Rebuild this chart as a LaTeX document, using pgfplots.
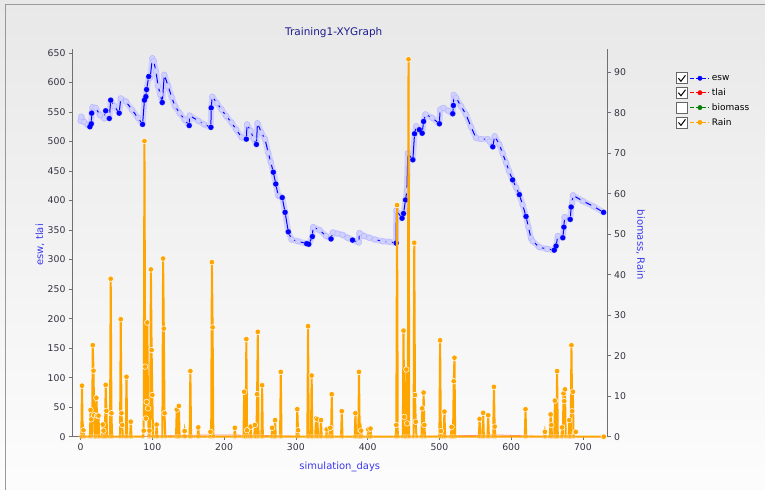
\documentclass[border=0pt]{standalone}
\usepackage{pgfplots}
\pgfplotsset{compat=1.18}
\usepackage{fontspec}
\setmainfont{DejaVu Sans}
\definecolor{rainc}{HTML}{FFA500}
\definecolor{eswc}{HTML}{0000FF}
\definecolor{titlec}{HTML}{1C1C8C}
\definecolor{labc}{HTML}{3A3AF0}
\definecolor{axc}{HTML}{707070}
\definecolor{tickc}{HTML}{333340}
\pgfplotsset{
  chk/.style={legend image code/.code={
    \draw[black!60, fill=white, line width=0.6pt] (-14pt,-5.5pt) rectangle (-3pt,5.5pt);
    \draw[black, line width=1pt] (-12pt,0pt) -- (-9.5pt,-3pt) -- (-5pt,3pt);
    \draw[##1, solid, line width=0.8pt, dash pattern=on 4pt off 2pt] (0pt,0pt) -- (19pt,0pt);
    \draw[##1] plot coordinates {(9.5pt,0pt)};
  }},
  unchk/.style={legend image code/.code={
    \draw[black!60, fill=white, line width=0.6pt] (-14pt,-5.5pt) rectangle (-3pt,5.5pt);
    \draw[##1, solid, line width=0.8pt, dash pattern=on 4pt off 2pt] (0pt,0pt) -- (19pt,0pt);
    \draw[##1] plot coordinates {(9.5pt,0pt)};
  }},
  common/.style={
    at={(72pt,53pt)}, anchor=south west, scale only axis,
    width=536pt, height=388pt, xmin=-12, xmax=734.4, clip=false,
    tick align=outside, major tick length=3pt,
    every tick/.style={axc, line width=0.6pt},
    axis line style={axc, line width=0.8pt},
    tick label style={font=\fontsize{9.3}{10}\selectfont, text=tickc},
    /pgf/number format/assume math mode=true,
  }
}
\pgfplotstableread{
x y
0 535
1 542
5 533
10 528
13 525
15 530
15.5 548
16.5 558
21 557
27 545
33 539
35 552
38 545
40 539
42 570
47 560
53.8 548
56 573
63 568
71.5 554
80 540
86.4 529
89 570
91 576
92 588
95 610
97 608
100 641
102 636
105 619
108 594
111 580
113.8 566
116.7 613
122 594
127 575
131.5 560
138 548
145 537
151.4 527
152 544
164 535
172 529
181.6 524
182 557
183.5 576
190 565
196.5 554
203 543
210.4 532
217 520
224.4 507
231 504
232 529
237 518
241 505
245 495
246.5 531
252 515
257 504
261.5 481
265 465
268.6 448
272 428
275.5 408
278 407
281 405
285 380
289.5 347
294 334
303 331
315 327
318 326
323 339
324 355
333 350
342 340
349 335
351.5 346
358 344
365 342
372 337
379 333
387.7 329
388.6 345
395 340
402.5 337
410 334
421 331
430 330
439.7 328
440 383
448 370
450 378
452.8 401
454.7 417
456 480
463 469
465.4 513
467.7 526
472 520
476 514
478 534
480.6 546
490 540
500 530
501 554
505.6 557
512 552
518.6 547
519.5 561
520 579
523.3 574
530 560
537 546
544 525
551 506
558 504
567.5 504
570 500
574.4 491
577 509
583.6 495
588 480
593 464
597 450
602 435
607 422
611.4 410
616 393
620.7 373
624 355
627.7 336
630 331
639.3 321
650 318
660 316
662.6 323
665 340
672 337
673.5 355
674.4 372
682.3 368
683.6 389
685 396
686 409
700 399
715 390
728.8 380
}\eswtable
\begin{document}
\begin{tikzpicture}[x=1pt,y=1pt]
\shade[top color=black!9, bottom color=black!1] (0,0) rectangle (765,490);
\draw[black!40, line width=1pt] (6,0) -- (6,485) -- (765,485);
\node[text=titlec, font=\fontsize{10.5}{12}\selectfont] at (334,457) {Training1-XYGraph};
\node[text=labc, font=\fontsize{10}{12}\selectfont] at (340,23) {simulation\_days};
\node[text=labc, font=\fontsize{10}{12}\selectfont, rotate=90] at (40,245) {esw, tlai};
\node[text=labc, font=\fontsize{10}{12}\selectfont, rotate=-90] at (641,245) {biomass, Rain};

\begin{axis}[common, ymin=0, ymax=656.7,
  axis y line*=left, axis x line*=bottom,
  xtick={0,100,...,700}, ytick={0,50,...,650}]
% tlai
\addplot[red!45, line width=0.8pt] coordinates {(0,0)(60,0.2)(120,1.5)(180,3)(240,2.5)(270,1.5)(300,0.8)(320,0)(450,0)(520,1.5)(580,3)(620,1.5)(640,0.5)(660,0)(730,0)};
% esw: faded band of dense markers, then line with marks
\addplot[eswc!18, line width=6pt, line join=round, line cap=round] table {\eswtable};
\addplot[eswc, line width=1pt, mark=*, mark size=2.8pt, mark options={fill=eswc!18, draw=eswc!28, line width=0.5pt}] table {\eswtable};
\addplot[only marks, mark=*, mark size=2.4pt, eswc] coordinates {
(13,525)(15,530)(15.5,548)(35,552)(40,539)(42,570)(53.8,548)(86.4,529)(89,570)(91,576)(92,588)(95,610)(113.8,566)(151.4,527)(181.6,524)(182,557)(231,504)(245,495)(268.6,448)(272,428)(281,405)(285,380)(289.5,347)(315,327)(318,326)(323,339)(349,335)(379,333)(439.7,328)(448,370)(450,378)(452.8,401)(463,469)(465.4,513)(472,520)(476,514)(478,534)(500,530)(518.6,547)(519.5,561)(574.4,491)(602,435)(611.4,410)(620.7,373)(660,316)(662.6,323)(672,337)(673.5,355)(682.3,368)(683.6,389)(728.8,380)};
\end{axis}

\begin{axis}[common, ymin=0, ymax=95.75,
  axis y line*=right, axis x line=none,
  ytick={0,10,...,90},
  legend style={at={(1.122,0.945)}, anchor=north west, draw=none, fill=none,
    font=\fontsize{9}{10}\selectfont, row sep=2.5pt,
    /tikz/every even column/.append style={column sep=2pt}},
  legend cell align=left]
\addlegendimage{chk, eswc, mark=*, mark size=2.2pt}
\addlegendentry{esw}
\addlegendimage{chk, red, mark=*, mark size=2.2pt}
\addlegendentry{tlai}
\addlegendimage{unchk, green!50!black, mark=*, mark size=2.2pt}
\addlegendentry{biomass}
\addlegendimage{chk, rainc, mark=*, mark size=2.2pt}
\addlegendentry{Rain}
\addplot[forget plot, rainc, line width=2pt, mark=*, mark size=2.3pt, mark options={fill=rainc, draw=white, line width=0.4pt, opacity=0.3}] coordinates {
(0,0)(1,0)(2,12.6)(3,0)(4,1.6)(5,0)(13,0)(14,6.6)(15,4.3)(16,0)(17,22.6)(18,16.3)(19,5.3)(20,0)(21,0)(22,9.6)(23,5.2)(24,0)(25,5.2)(26,0)(30,0)(31,3.0)(32,1.5)(33,0)(34,0)(35,12.8)(36,6.4)(37,0)(41,0)(42,39.0)(43,5.8)(44,0)(55,0)(56,29.0)(57,5.8)(58,2.9)(59,0)(63,0)(64,14.8)(65,0)(69,0)(70,3.7)(71,0)(87,0)(88,1.5)(89,73.0)(90,17.3)(91,4.5)(92,8.6)(93,28.2)(94,7.0)(95,0)(96,1.5)(97,0)(98,41.3)(99,21.4)(100,10.3)(101,0)(105,0)(106,3.0)(107,0)(114,0)(115,44.0)(116,26.7)(117,5.8)(118,0)(133,0)(134,6.7)(135,0)(136,0)(137,7.6)(138,0)(144,0)(145,1.4)(146,0)(152,0)(153,16.2)(154,0)(163,0)(164,2.3)(165,0)(180,0)(181,1.2)(182,0)(183,43.1)(184,27.0)(185,0)(214,0)(215,2.2)(216,0)(227,0)(228,11.1)(229,0)(230,0)(231,24.1)(232,1.6)(233,0)(236,0)(237,2.5)(238,0)(242,0)(243,2.9)(244,0)(245,0)(246,10.5)(247,25.9)(248,0)(252,0)(253,12.7)(254,0)(266,0)(267,2.2)(268,0)(270,0)(271,4.1)(272,0)(278,0)(279,16.0)(280,0)(301,0)(302,6.8)(303,1.6)(304,0)(316,0)(317,27.3)(318,0)(321,0)(322,15.1)(323,0)(327,0)(328,4.5)(329,0)(330,4.3)(331,0)(334,0)(335,4.1)(336,0)(342,0)(343,1.8)(344,0)(347,0)(348,2.2)(349,0)(350,10.5)(351,0)(363,0)(364,6.3)(365,0)(382,0)(383,5.8)(384,0)(387,0)(388,16.0)(389,0)(390,0)(391,1.5)(392,0)(400,0)(401,1.8)(402,0)(403,0)(404,2.0)(405,0)(439,0)(440,2.9)(441,57.2)(442,0)(449,0)(450,26.2)(451,4.9)(452,0)(453,0)(454,16.6)(455,3.3)(456,0)(457,93.2)(458,0)(464,0)(465,47.9)(466,10.3)(467,3.7)(468,0)(475,0)(476,7.0)(477,0)(478,10.9)(479,2.9)(480,0)(500,0)(501,23.8)(502,1.4)(503,0)(506,0)(507,6.2)(508,0)(516,0)(517,2.4)(518,0)(519,0)(520,13.7)(521,19.5)(522,0)(555,0)(556,4.4)(557,0)(560,0)(561,5.9)(562,0)(567,0)(568,5.3)(569,0)(575,0)(576,12.3)(577,2.5)(578,0)(619,0)(620,6.8)(621,0)(646,0)(647,1.2)(648,0)(654,0)(655,5.5)(656,2.9)(657,0)(660,0)(661,8.9)(662,0)(663,0)(664,16.2)(665,0)(670,0)(671,2.3)(672,0)(673,10.7)(674,8.8)(675,11.7)(676,0)(680,0)(681,4.1)(682,0)(683,0)(684,22.6)(685,6.3)(686,11.1)(687,0)(730,0)};
\addplot[forget plot, only marks, mark=*, mark size=2.8pt, mark options={fill=rainc, draw=white, line width=0.5pt}] coordinates {
(2,12.6)(4,1.6)(14,6.6)(15,4.3)(17,22.6)(18,16.3)(19,5.3)(22,9.6)(23,5.2)(25,5.2)(31,3.0)(32,1.5)(35,12.8)(36,6.4)(42,39.0)(43,5.8)(56,29.0)(57,5.8)(58,2.9)(64,14.8)(70,3.7)(88,1.5)(89,73.0)(90,17.3)(91,4.5)(92,8.6)(93,28.2)(94,7.0)(96,1.5)(98,41.3)(99,21.4)(100,10.3)(106,3.0)(115,44.0)(116,26.7)(117,5.8)(134,6.7)(137,7.6)(145,1.4)(153,16.2)(164,2.3)(181,1.2)(183,43.1)(184,27.0)(215,2.2)(228,11.1)(231,24.1)(232,1.6)(237,2.5)(243,2.9)(246,10.5)(247,25.9)(253,12.7)(267,2.2)(271,4.1)(279,16.0)(302,6.8)(303,1.6)(317,27.3)(322,15.1)(328,4.5)(330,4.3)(335,4.1)(343,1.8)(348,2.2)(350,10.5)(364,6.3)(383,5.8)(388,16.0)(391,1.5)(401,1.8)(404,2.0)(440,2.9)(441,57.2)(450,26.2)(451,4.9)(454,16.6)(455,3.3)(457,93.2)(465,47.9)(466,10.3)(467,3.7)(476,7.0)(478,10.9)(479,2.9)(501,23.8)(502,1.4)(507,6.2)(517,2.4)(520,13.7)(521,19.5)(556,4.4)(561,5.9)(568,5.3)(576,12.3)(577,2.5)(620,6.8)(647,1.2)(655,5.5)(656,2.9)(661,8.9)(664,16.2)(671,2.3)(673,10.7)(674,8.8)(675,11.7)(681,4.1)(684,22.6)(685,6.3)(686,11.1)(690,1.2)(729,0)};
\end{axis}
\end{tikzpicture}
\end{document}
